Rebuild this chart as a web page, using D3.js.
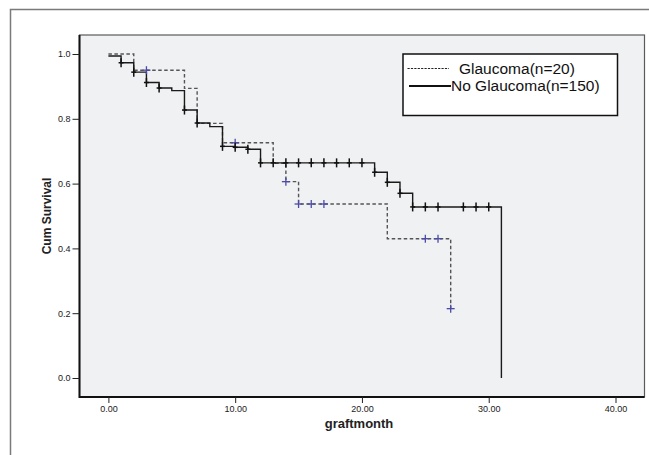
<!DOCTYPE html>
<html>
<head>
<meta charset="utf-8">
<script src="https://cdn.jsdelivr.net/npm/d3@7/dist/d3.min.js"></script>
<style>
  html, body { margin: 0; padding: 0; background: #ffffff; }
  svg { display: block; }
</style>
</head>
<body>
<svg id="chart" width="649" height="455"></svg>
<script>
// ---- Data ----
const xTicks = [0, 10, 20, 30, 40];
const yTicks = [0.0, 0.2, 0.4, 0.6, 0.8, 1.0];

const glaucomaTimes = [0, 2, 6, 7, 9, 13, 14, 15, 22, 27];
const glaucomaSurv  = [1.0, 0.95, 0.894, 0.786, 0.726, 0.663, 0.606, 0.537, 0.43, 0.214];
const glaucomaCensored = [3, 10, 14, 15, 16, 17, 25, 26, 27];

const noGlaucomaTimes = [0, 1, 2, 3, 4, 5, 6, 7, 8, 9, 10, 11, 12, 21, 22, 23, 24, 31];
const noGlaucomaSurv  = [0.994, 0.973, 0.944, 0.912, 0.895, 0.887, 0.827, 0.787, 0.776, 0.715, 0.712, 0.706, 0.664, 0.635, 0.604, 0.570, 0.528, 0.0];
const noGlaucomaCensored = [1, 2, 3, 4, 6, 7, 9, 10, 11, 12, 13, 14, 15, 16, 17, 18, 19, 20, 21, 22, 23, 24, 25, 26, 28, 29, 30];

const legendLabels = ["Glaucoma(n=20)", "No Glaucoma(n=150)"];

// ---- Layout ----
const svg = d3.select("#chart");
const plot = { left: 79.5, top: 35, right: 644.5, bottom: 397 };

const x = d3.scaleLinear().domain([0, 40]).range([108.4, 615.5]);
const y = d3.scaleLinear().domain([0, 1]).range([378, 54]);

// outer frame
svg.append("rect")
  .attr("x", 10.5).attr("y", 9.5).attr("width", 700).attr("height", 600)
  .attr("fill", "none").attr("stroke", "#7a7a7a").attr("stroke-width", 1.5);

// plot area
svg.append("rect")
  .attr("x", plot.left).attr("y", plot.top)
  .attr("width", plot.right - plot.left).attr("height", plot.bottom - plot.top)
  .attr("fill", "#f0f1f3").attr("stroke", "#5a5a5a").attr("stroke-width", 1.2);
svg.append("line").attr("x1", plot.left).attr("x2", plot.left)
  .attr("y1", plot.top).attr("y2", plot.bottom + 1)
  .attr("stroke", "#111").attr("stroke-width", 2);
svg.append("line").attr("x1", plot.left).attr("x2", plot.right)
  .attr("y1", plot.bottom).attr("y2", plot.bottom)
  .attr("stroke", "#111").attr("stroke-width", 2);

// axes
const yAxis = d3.axisLeft(y).tickValues(yTicks).tickFormat(d3.format(".1f")).tickSize(7).tickPadding(2);
const gy = svg.append("g").attr("transform", `translate(${plot.left},0)`).call(yAxis);
gy.select(".domain").remove();
gy.selectAll("line").attr("stroke", "#222").attr("stroke-width", 1);
gy.selectAll("text").attr("font-family", "Liberation Sans, Arial, sans-serif")
  .attr("font-size", 9).attr("fill", "#1a1a1a");

const xAxis = d3.axisBottom(x).tickValues(xTicks).tickFormat(d3.format(".2f")).tickSize(6).tickPadding(3);
const gx = svg.append("g").attr("transform", `translate(0,${plot.bottom})`).call(xAxis);
gx.select(".domain").remove();
gx.selectAll("line").attr("stroke", "#222").attr("stroke-width", 1);
gx.selectAll("text").attr("font-family", "Liberation Sans, Arial, sans-serif")
  .attr("font-size", 9).attr("fill", "#1a1a1a");

// axis titles
svg.append("text")
  .attr("x", (plot.left + plot.right) / 2 - 3).attr("y", 428)
  .attr("text-anchor", "middle")
  .attr("font-family", "Liberation Sans, Arial, sans-serif")
  .attr("font-weight", "bold").attr("font-size", 13).attr("fill", "#222")
  .text("graftmonth");

svg.append("text")
  .attr("transform", "translate(51,216) rotate(-90)")
  .attr("text-anchor", "middle")
  .attr("font-family", "Liberation Sans, Arial, sans-serif")
  .attr("font-weight", "bold").attr("font-size", 12).attr("fill", "#222")
  .text("Cum Survival");

// survival step curves
function stepFn(times, surv) {
  return t => {
    let v = surv[0];
    for (let i = 0; i < times.length; i++) if (times[i] <= t) v = surv[i];
    return v;
  };
}
const line = d3.line().x(d => x(d[0])).y(d => y(d[1])).curve(d3.curveStepAfter);

const gData = glaucomaTimes.map((t, i) => [t, glaucomaSurv[i]]);
const nData = noGlaucomaTimes.map((t, i) => [t, noGlaucomaSurv[i]]);

svg.append("path").datum(gData).attr("d", line)
  .attr("fill", "none").attr("stroke", "#555").attr("stroke-width", 1.4)
  .attr("stroke-dasharray", "3.5,2.5");

svg.append("path").datum(nData).attr("d", line)
  .attr("fill", "none").attr("stroke", "#1a1a1a").attr("stroke-width", 1.4);

// censor marks
const gS = stepFn(glaucomaTimes, glaucomaSurv);
const nS = stepFn(noGlaucomaTimes, noGlaucomaSurv);

const gc = svg.append("g").attr("stroke", "#4b4ba6").attr("stroke-width", 1.3);
glaucomaCensored.forEach(t => {
  const cx = x(t), cy = y(gS(t));
  gc.append("line").attr("x1", cx - 4).attr("x2", cx + 4).attr("y1", cy).attr("y2", cy);
  gc.append("line").attr("x1", cx).attr("x2", cx).attr("y1", cy - 4).attr("y2", cy + 4);
});

const nc = svg.append("g").attr("stroke", "#111").attr("stroke-width", 1.5);
noGlaucomaCensored.forEach(t => {
  const cx = x(t), cy = y(nS(t));
  nc.append("line").attr("x1", cx - 2.5).attr("x2", cx + 2.5).attr("y1", cy).attr("y2", cy);
  nc.append("line").attr("x1", cx).attr("x2", cx).attr("y1", cy - 4.5).attr("y2", cy + 4.5);
});

// legend
const lg = svg.append("g");
lg.append("rect").attr("x", 403).attr("y", 54).attr("width", 214.5).attr("height", 61.5)
  .attr("fill", "#ffffff").attr("stroke", "#111").attr("stroke-width", 1.5);
lg.append("line").attr("x1", 407.5).attr("x2", 449).attr("y1", 68.5).attr("y2", 68.5)
  .attr("stroke", "#222").attr("stroke-width", 1.2).attr("stroke-dasharray", "2.2,1.2");
lg.append("line").attr("x1", 409).attr("x2", 451).attr("y1", 86).attr("y2", 86)
  .attr("stroke", "#111").attr("stroke-width", 2);
lg.append("text").attr("x", 459).attr("y", 73.5)
  .attr("font-family", "Liberation Sans, Arial, sans-serif").attr("font-size", 15.5).attr("fill", "#111")
  .text(legendLabels[0]);
lg.append("text").attr("x", 451).attr("y", 91)
  .attr("font-family", "Liberation Sans, Arial, sans-serif").attr("font-size", 15.5).attr("fill", "#111")
  .text(legendLabels[1]);
</script>
</body>
</html>
